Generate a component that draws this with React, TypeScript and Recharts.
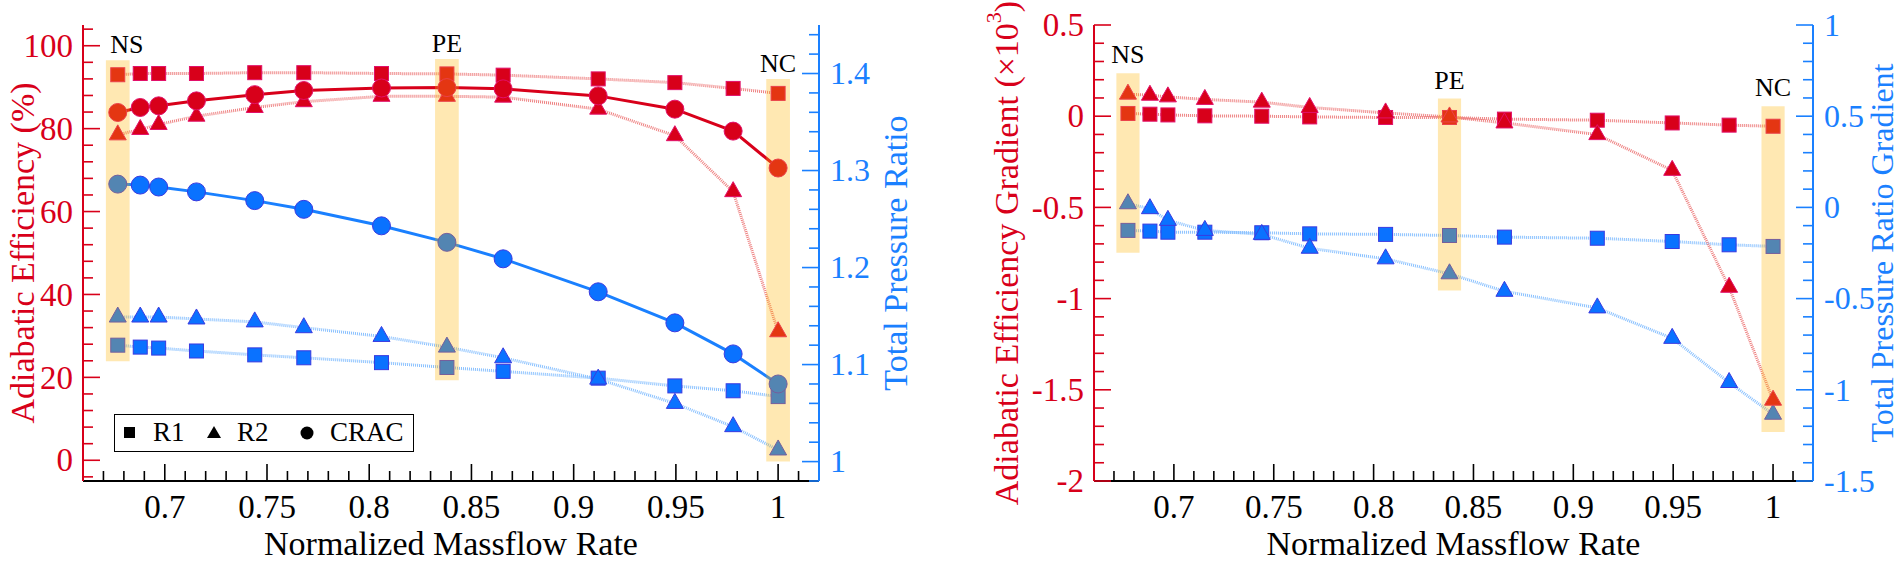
import React from "react";
import { ComposedChart, Line, XAxis, YAxis, ReferenceArea, Legend } from "recharts";

// ---- data ----
const massflow = [0.677, 0.688, 0.697, 0.7155, 0.744, 0.768, 0.806, 0.838, 0.8655, 0.912, 0.9495, 0.978, 1.0];

// left panel: adiabatic efficiency (%) and total pressure ratio
const effR1 = [93.0, 93.3, 93.3, 93.3, 93.5, 93.5, 93.3, 93.2, 92.9, 92.0, 91.1, 89.7, 88.5];
const effR2 = [78.5, 79.8, 81.0, 83.0, 85.1, 86.5, 87.8, 87.8, 87.6, 84.7, 78.3, 64.8, 31.0];
const effCRAC = [83.9, 85.1, 85.5, 86.7, 88.2, 89.2, 89.8, 89.9, 89.6, 87.9, 84.7, 79.4, 70.5];
const prR1 = [1.12, 1.118, 1.117, 1.114, 1.11, 1.107, 1.102, 1.097, 1.093, 1.086, 1.078, 1.073, 1.067];
const prR2 = [1.149, 1.149, 1.149, 1.147, 1.144, 1.138, 1.129, 1.118, 1.107, 1.085, 1.06, 1.036, 1.012];
const prCRAC = [1.286, 1.285, 1.283, 1.278, 1.269, 1.26, 1.243, 1.226, 1.209, 1.175, 1.143, 1.111, 1.08];

// right panel: gradients
const gEffR1 = [0.015, 0.011, 0.007, 0.002, 0, -0.004, -0.007, -0.007, -0.016, -0.022, -0.037, -0.049, -0.055];
const gEffR2 = [0.121, 0.115, 0.106, 0.092, 0.077, 0.048, 0.018, -0.004, -0.037, -0.101, -0.297, -0.938, -1.557];
const gPrR1 = [-0.126, -0.13, -0.136, -0.136, -0.139, -0.145, -0.148, -0.154, -0.163, -0.169, -0.187, -0.205, -0.214];
const gPrR2 = [0.02, -0.007, -0.071, -0.126, -0.148, -0.224, -0.282, -0.364, -0.46, -0.551, -0.718, -0.96, -1.134];

// highlighted operating points
const pointLabels = ["NS", "PE", "NC"];
const pointFlow = [0.677, 0.838, 1.0];
const effBandLow = [23.9, 19.3, -0.3];
const effBandHigh = [96.5, 96.8, 92.0];
const gradBandLow = [-0.749, -0.956, -1.731];
const gradBandHigh = [0.235, 0.097, 0.055];

// ticks
const flowTicks = [0.67, 0.68, 0.69, 0.7, 0.71, 0.72, 0.73, 0.74, 0.75, 0.76, 0.77, 0.78, 0.79, 0.8, 0.81, 0.82, 0.83, 0.84, 0.85, 0.86, 0.87, 0.88, 0.89, 0.9, 0.91, 0.92, 0.93, 0.94, 0.95, 0.96, 0.97, 0.98, 0.99, 1.0, 1.01];
const effTicks = [-4, 0, 4, 8, 12, 16, 20, 24, 28, 32, 36, 40, 44, 48, 52, 56, 60, 64, 68, 72, 76, 80, 84, 88, 92, 96, 100, 104];
const prTicks = [0.98, 1.0, 1.02, 1.04, 1.06, 1.08, 1.1, 1.12, 1.14, 1.16, 1.18, 1.2, 1.22, 1.24, 1.26, 1.28, 1.3, 1.32, 1.34, 1.36, 1.38, 1.4, 1.42, 1.44];
const gEffTicks = [-2, -1.9, -1.8, -1.7, -1.6, -1.5, -1.4, -1.3, -1.2, -1.1, -1, -0.9, -0.8, -0.7, -0.6, -0.5, -0.4, -0.3, -0.2, -0.1, 0, 0.1, 0.2, 0.3, 0.4, 0.5];
const gPrTicks = [-1.5, -1.4, -1.3, -1.2, -1.1, -1, -0.9, -0.8, -0.7, -0.6, -0.5, -0.4, -0.3, -0.2, -0.1, 0, 0.1, 0.2, 0.3, 0.4, 0.5, 0.6, 0.7, 0.8, 0.9, 1];

const legendItems = ["R1", "R2", "CRAC"];

// ---- styles ----
const FONT = '"Liberation Serif", "Times New Roman", serif';
const RED = "#d8001a";
const RED_EDGE = "#e2106a";
const RED_DOT = "#ee8080";
const BLUE = "#1a80ff";
const BLUE_FILL = "#0a72ff";
const BLUE_EDGE = "#3a3ae0";
const BLUE_DOT = "#88c0ff";
const BAND = "#ffb400";

const onStep = (step: number) => (v: number) => Math.abs(v / step - Math.round(v / step)) < 1e-6;
const fmt = (v: number) => String(Math.round(v * 100) / 100);

function AxisTick(props: any) {
  const { x, y, payload, side, color, isMajor } = props;
  const v = payload.value;
  const major = isMajor(v);
  const len = major ? 17 : 10;
  const txt = { fill: color, fontSize: side === "right" ? 32 : 33, fontFamily: FONT } as any;
  if (side === "left") {
    return (
      <g>
        <line x1={x} y1={y} x2={x + len} y2={y} stroke={color} strokeWidth={1.6} />
        {major && <text x={x - 10} y={y} dy="0.34em" textAnchor="end" {...txt}>{fmt(v)}</text>}
      </g>
    );
  }
  if (side === "right") {
    return (
      <g>
        <line x1={x} y1={y} x2={x - len} y2={y} stroke={color} strokeWidth={1.6} />
        {major && <text x={x + 11} y={y} dy="0.34em" textAnchor="start" {...txt}>{fmt(v)}</text>}
      </g>
    );
  }
  return (
    <g>
      <line x1={x} y1={y} x2={x} y2={y - len} stroke={color} strokeWidth={1.6} />
      {major && <text x={x} y={y + 37} textAnchor="middle" {...txt}>{fmt(v)}</text>}
    </g>
  );
}

// marker renderers (position comes from the library via cx / cy)
const squareDot = (fill: string, edge: string) => (p: any) =>
  p.cx == null ? <g key={p.index} /> : (
    <rect key={p.index} x={p.cx - 7} y={p.cy - 7} width={14} height={14} fill={fill} stroke={edge} strokeWidth={1} />
  );
const triangleDot = (fill: string, edge: string) => (p: any) =>
  p.cx == null ? <g key={p.index} /> : (
    <polygon
      key={p.index}
      points={`${p.cx},${p.cy - 10} ${p.cx - 8.5},${p.cy + 5} ${p.cx + 8.5},${p.cy + 5}`}
      fill={fill}
      stroke={edge}
      strokeWidth={1}
    />
  );
const circleDot = (fill: string, edge: string) => (p: any) =>
  p.cx == null ? <g key={p.index} /> : <circle key={p.index} cx={p.cx} cy={p.cy} r={9} fill={fill} stroke={edge} strokeWidth={1} />;

const yTitle = (text: React.ReactNode, color: string, dxFromBox: (vb: any) => number, size = 34) => ({
  content: (p: any) => {
    const vb = p.viewBox || {};
    const x = dxFromBox(vb);
    const y = vb.y + vb.height / 2;
    return (
      <text
        x={x}
        y={y}
        transform={`rotate(-90, ${x}, ${y})`}
        textAnchor="middle"
        dominantBaseline="central"
        fill={color}
        fontSize={size}
        fontFamily={FONT}
      >
        {text}
      </text>
    );
  },
});

const xTitle = {
  content: (p: any) => {
    const vb = p.viewBox || {};
    return (
      <text x={vb.x + vb.width / 2} y={vb.y + 74} textAnchor="middle" fill="#000" fontSize={34} fontFamily={FONT}>
        Normalized Massflow Rate
      </text>
    );
  },
};

function LegendBox() {
  const mark = (i: number) =>
    i === 0 ? (
      <rect x={1} y={1} width={11} height={11} fill="#000" />
    ) : i === 1 ? (
      <polygon points="7,0 0,12 14,12" fill="#000" />
    ) : (
      <circle cx={7} cy={7} r={6.5} fill="#000" />
    );
  const left = [8, 92, 185];
  return (
    <div
      style={{
        position: "relative",
        width: 300,
        height: 38,
        boxSizing: "border-box",
        border: "1.5px solid #000",
        background: "#fff",
        fontFamily: FONT,
        fontSize: 27,
        color: "#000",
      }}
    >
      {legendItems.map((name, i) => (
        <div key={name} style={{ position: "absolute", left: left[i], top: 0, height: 35, display: "flex", alignItems: "center" }}>
          <svg width={14} height={14} style={{ marginRight: 16 }}>
            {mark(i)}
          </svg>
          <span style={{ lineHeight: "35px" }}>{name}</span>
        </div>
      ))}
    </div>
  );
}

const HALF_BAND = 0.0058;

function bands(yAxisId: string, low: number[], high: number[], labelOffset: number, nsShift: number) {
  return pointFlow.map((f, i) => (
    <ReferenceArea
      key={pointLabels[i]}
      yAxisId={yAxisId}
      x1={f - HALF_BAND}
      x2={f + HALF_BAND}
      y1={low[i]}
      y2={high[i]}
      fill={BAND}
      fillOpacity={0.3}
      stroke="none"
      zIndex={1500}
      label={{
        value: pointLabels[i],
        position: "top",
        offset: labelOffset,
        dx: i === 0 ? nsShift : 0,
        fill: "#000",
        fontSize: 26,
        fontFamily: FONT,
      }}
    />
  ));
}

function EfficiencyChart() {
  const rows = massflow.map((m, i) => ({
    m,
    effR1: effR1[i],
    effR2: effR2[i],
    effCRAC: effCRAC[i],
    prR1: prR1[i],
    prR2: prR2[i],
    prCRAC: prCRAC[i],
  }));
  return (
    <ComposedChart width={950} height={563} data={rows} margin={{ top: 25, right: 51, bottom: 42, left: 23 }}>
      <XAxis
        dataKey="m"
        type="number"
        domain={[0.66, 1.02]}
        ticks={flowTicks}
        interval={0}
        tickSize={0}
        tickMargin={0}
        tickLine={false}
        height={40}
        axisLine={{ stroke: "#000", strokeWidth: 2 }}
        tick={(p: any) => <AxisTick {...p} side="bottom" color="#000" isMajor={onStep(0.05)} />}
        label={xTitle}
      />
      <XAxis xAxisId="top" orientation="top" dataKey="m" type="number" domain={[0.66, 1.02]} height={0} tick={false} tickLine={false} axisLine={{ stroke: "#000", strokeWidth: 1.5 }} />
      <YAxis
        yAxisId="eff"
        domain={[-5, 105]}
        ticks={effTicks}
        interval={0}
        width={60}
        tickSize={0}
        tickMargin={0}
        tickLine={false}
        axisLine={{ stroke: RED, strokeWidth: 2 }}
        tick={(p: any) => <AxisTick {...p} side="left" color={RED} isMajor={onStep(20)} />}
        label={yTitle("Adiabatic Efficiency (%)", RED, (vb) => vb.x + vb.width - 61)}
      />
      <YAxis
        yAxisId="pr"
        orientation="right"
        domain={[0.98, 1.45]}
        ticks={prTicks}
        interval={0}
        width={80}
        tickSize={0}
        tickMargin={0}
        tickLine={false}
        axisLine={{ stroke: BLUE, strokeWidth: 2 }}
        tick={(p: any) => <AxisTick {...p} side="right" color={BLUE} isMajor={onStep(0.1)} />}
        label={yTitle("Total Pressure Ratio", BLUE, (vb) => vb.x + 76)}
      />
      <Line yAxisId="pr" dataKey="prR1" stroke={BLUE_DOT} strokeWidth={3} strokeDasharray="1 1" dot={squareDot(BLUE_FILL, BLUE_EDGE)} isAnimationActive={false} />
      <Line yAxisId="pr" dataKey="prR2" stroke={BLUE_DOT} strokeWidth={3} strokeDasharray="1 1" dot={triangleDot(BLUE_FILL, BLUE_EDGE)} isAnimationActive={false} />
      <Line yAxisId="pr" dataKey="prCRAC" stroke={BLUE} strokeWidth={3} dot={circleDot(BLUE_FILL, BLUE_EDGE)} isAnimationActive={false} />
      <Line yAxisId="eff" dataKey="effR1" stroke={RED_DOT} strokeWidth={3} strokeDasharray="1 1" dot={squareDot(RED, RED_EDGE)} isAnimationActive={false} />
      <Line yAxisId="eff" dataKey="effR2" stroke={RED_DOT} strokeWidth={3} strokeDasharray="1 1" dot={triangleDot(RED, RED_EDGE)} isAnimationActive={false} />
      <Line yAxisId="eff" dataKey="effCRAC" stroke={RED} strokeWidth={3} dot={circleDot(RED, RED_EDGE)} isAnimationActive={false} />
      {bands("eff", effBandLow, effBandHigh, 7, 9)}
      <Legend
        layout="horizontal"
        verticalAlign="middle"
        align="center"
        wrapperStyle={{ left: 114, top: 414, width: 300, height: 38 }}
        content={() => <LegendBox />}
      />
    </ComposedChart>
  );
}

function GradientChart() {
  const rows = massflow.map((m, i) => ({
    m,
    gEffR1: gEffR1[i],
    gEffR2: gEffR2[i],
    gPrR1: gPrR1[i],
    gPrR2: gPrR2[i],
  }));
  const effTitle = (
    <>
      Adiabatic Efficiency Gradient (×10
      <tspan dy={-13} fontSize={22}>3</tspan>
      <tspan dy={13}>)</tspan>
    </>
  );
  return (
    <ComposedChart width={940} height={563} data={rows} margin={{ top: 25, right: 27, bottom: 42, left: 54 }}>
      <XAxis
        dataKey="m"
        type="number"
        domain={[0.66, 1.02]}
        ticks={flowTicks}
        interval={0}
        tickSize={0}
        tickMargin={0}
        tickLine={false}
        height={40}
        axisLine={{ stroke: "#000", strokeWidth: 2 }}
        tick={(p: any) => <AxisTick {...p} side="bottom" color="#000" isMajor={onStep(0.05)} />}
        label={xTitle}
      />
      <XAxis xAxisId="top" orientation="top" dataKey="m" type="number" domain={[0.66, 1.02]} height={0} tick={false} tickLine={false} axisLine={{ stroke: "#000", strokeWidth: 1.5 }} />
      <YAxis
        yAxisId="geff"
        domain={[-2, 0.5]}
        ticks={gEffTicks}
        interval={0}
        width={80}
        tickSize={0}
        tickMargin={0}
        tickLine={false}
        axisLine={{ stroke: RED, strokeWidth: 2 }}
        tick={(p: any) => <AxisTick {...p} side="left" color={RED} isMajor={onStep(0.5)} />}
        label={yTitle(effTitle, RED, (vb) => vb.x + vb.width - 88)}
      />
      <YAxis
        yAxisId="gpr"
        orientation="right"
        domain={[-1.5, 1]}
        ticks={gPrTicks}
        interval={0}
        width={60}
        tickSize={0}
        tickMargin={0}
        tickLine={false}
        axisLine={{ stroke: BLUE, strokeWidth: 2 }}
        tick={(p: any) => <AxisTick {...p} side="right" color={BLUE} isMajor={onStep(0.5)} />}
        label={yTitle("Total Pressure Ratio Gradient", BLUE, (vb) => vb.x + 69, 32)}
      />
      <Line yAxisId="gpr" dataKey="gPrR1" stroke={BLUE_DOT} strokeWidth={3} strokeDasharray="1 1" dot={squareDot(BLUE_FILL, BLUE_EDGE)} isAnimationActive={false} />
      <Line yAxisId="gpr" dataKey="gPrR2" stroke={BLUE_DOT} strokeWidth={3} strokeDasharray="1 1" dot={triangleDot(BLUE_FILL, BLUE_EDGE)} isAnimationActive={false} />
      <Line yAxisId="geff" dataKey="gEffR1" stroke={RED_DOT} strokeWidth={3} strokeDasharray="1 1" dot={squareDot(RED, RED_EDGE)} isAnimationActive={false} />
      <Line yAxisId="geff" dataKey="gEffR2" stroke={RED_DOT} strokeWidth={3} strokeDasharray="1 1" dot={triangleDot(RED, RED_EDGE)} isAnimationActive={false} />
      {bands("geff", gradBandLow, gradBandHigh, 10, 0)}
    </ComposedChart>
  );
}

export default function App() {
  return (
    <div style={{ position: "absolute", left: 0, top: 0, width: 1900, height: 563, background: "#fff", overflow: "hidden" }}>
      <div style={{ position: "absolute", left: 0, top: 0 }}>
        <EfficiencyChart />
      </div>
      <div style={{ position: "absolute", left: 960, top: 0 }}>
        <GradientChart />
      </div>
    </div>
  );
}
